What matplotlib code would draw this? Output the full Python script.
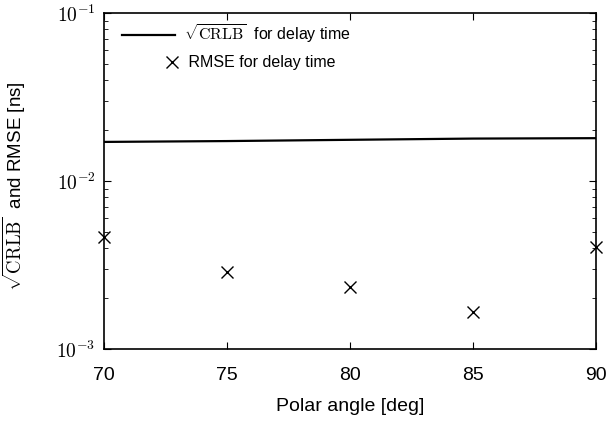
import numpy as np
import matplotlib
matplotlib.use("Agg")
import matplotlib.pyplot as plt
from matplotlib.ticker import LogLocator, NullFormatter, FixedLocator, FixedFormatter
from matplotlib.legend_handler import HandlerLine2DCompound

plt.rcParams['font.family'] = ['Liberation Sans', 'DejaVu Sans']
plt.rcParams['mathtext.fontset'] = 'cm'

# data
angles = [70, 75, 80, 85, 90]
crlb_sqrt = [0.0171, 0.0173, 0.0176, 0.0179, 0.0180]
rmse = [0.00467, 0.00288, 0.00234, 0.00166, 0.00404]
ytick_vals = [1e-3, 1e-2, 1e-1]
ytick_labels = [r'$10^{-3}$', r'$10^{-2}$', r'$10^{-1}$']


class RightMarkerHandler(HandlerLine2DCompound):
    # put the single marker near the right end of the handle, like MATLAB
    def get_xdata(self, legend, xdescent, ydescent, width, height, fontsize):
        xl, xm = super().get_xdata(legend, xdescent, ydescent, width, height, fontsize)
        return xl, np.array([width * 0.95 - xdescent])


fig = plt.figure(figsize=(6.11, 4.23), dpi=100)
ax = fig.add_axes([0.170, 0.175, 0.805, 0.794])

ax.plot(angles, crlb_sqrt, color='black', linewidth=1.6,
        label=r'$\sqrt{\mathrm{CRLB}}$  for delay time')
pts, = ax.plot(angles, rmse, linestyle='none', marker='x', color='black',
               markersize=9, markeredgewidth=1.0, clip_on=False,
               label=' RMSE for delay time')

ax.set_yscale('log')
ax.set_xlim(70, 90)
ax.set_ylim(1e-3, 1e-1)
ax.set_xticks([70, 75, 80, 85, 90])
ax.yaxis.set_major_locator(FixedLocator(ytick_vals))
ax.yaxis.set_major_formatter(FixedFormatter(ytick_labels))
ax.yaxis.set_minor_locator(LogLocator(base=10, subs=np.arange(2, 10), numticks=20))
ax.yaxis.set_minor_formatter(NullFormatter())

ax.tick_params(axis='both', which='both', direction='in', top=True, right=True)
ax.tick_params(axis='x', labelsize=14, pad=13)
ax.tick_params(axis='y', labelsize=14, pad=6)
ax.tick_params(which='major', length=5)
ax.tick_params(which='minor', length=3)
for s in ax.spines.values():
    s.set_linewidth(1.2)

ax.set_xlabel('Polar angle [deg]', fontsize=14, labelpad=10)
ax.set_ylabel(r'$\sqrt{\mathrm{CRLB}}$  and RMSE [ns]', fontsize=13.5, labelpad=13)
ax.yaxis.set_label_coords(-0.155, 0.485)

ax.legend(loc='upper left', bbox_to_anchor=(0.024, 0.991), frameon=False,
          fontsize=11.5, handlelength=3.3, handletextpad=0.6,
          borderaxespad=0, labelspacing=0.62,
          handler_map={pts: RightMarkerHandler(numpoints=1)})

fig.savefig('out.png', dpi=100)
